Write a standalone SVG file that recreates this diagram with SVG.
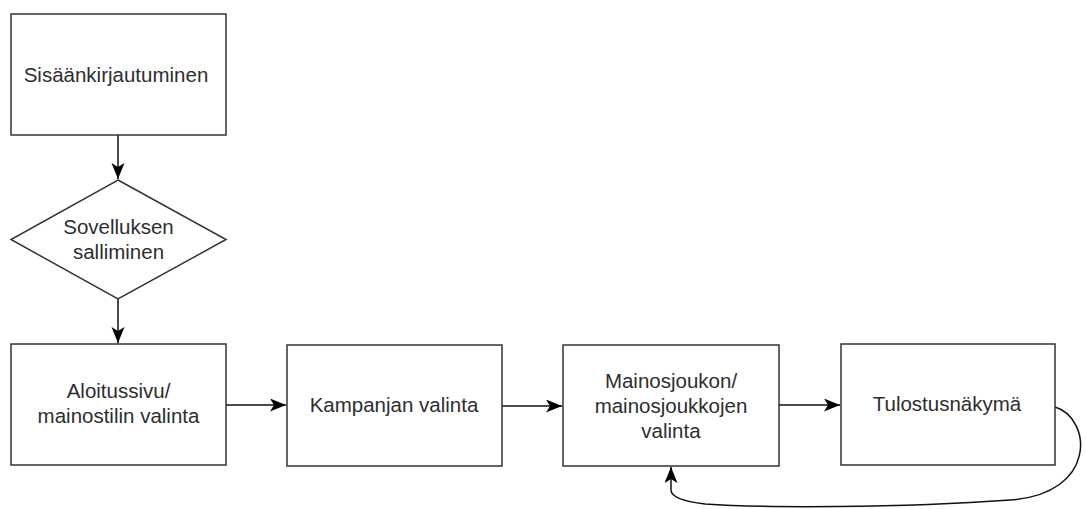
<svg xmlns="http://www.w3.org/2000/svg" width="1086" height="509" viewBox="0 0 1086 509">
<style>
.box{fill:#fff;stroke:#333;stroke-width:1.5}
.lbl{font-family:"Liberation Sans",Arial,sans-serif;font-size:20.5px;fill:#2e2e2e;text-anchor:middle}
.edge{fill:none;stroke:#111;stroke-width:1.5}
</style>
<defs>
<marker id="arr" markerWidth="18" markerHeight="14" refX="16" refY="6.5" orient="auto" markerUnits="userSpaceOnUse">
<path d="M0,0 L16,6.5 L0,13 L4,6.5 Z" fill="#000"/>
</marker>
</defs>
<rect width="1086" height="509" fill="#fff"/>
<g id="connectors">
<path class="edge" d="M118,135 L118,179" marker-end="url(#arr)"/>
<path class="edge" d="M118,299 L118,343" marker-end="url(#arr)"/>
<path class="edge" d="M226,405 L286,405" marker-end="url(#arr)"/>
<path class="edge" d="M502,406 L562,406" marker-end="url(#arr)"/>
<path class="edge" d="M779,405 L840,405" marker-end="url(#arr)"/>
<path class="edge" d="M1055,407 C1092,418 1098,494 1010,500 C 900,508 760,508 705,504 Q 671,500 671,490 L671,467" marker-end="url(#arr)"/>
</g>
<g id="n1"><rect class="box" x="11" y="14" width="215" height="121"/><text class="lbl" x="116" y="82">Sisäänkirjautuminen</text></g>
<g id="n2"><polygon class="box" points="118,180 226,239.5 118,299 11,239.5"/><text class="lbl" x="118.5" y="234">Sovelluksen</text><text class="lbl" x="118.5" y="259">salliminen</text></g>
<g id="n3"><rect class="box" x="11" y="344" width="215" height="121"/><text class="lbl" x="118.5" y="398">Aloitussivu/</text><text class="lbl" x="118.5" y="423">mainostilin valinta</text></g>
<g id="n4"><rect class="box" x="287" y="345" width="215" height="121"/><text class="lbl" x="394" y="412">Kampanjan valinta</text></g>
<g id="n5"><rect class="box" x="563" y="345" width="216" height="121"/><text class="lbl" x="671" y="388">Mainosjoukon/</text><text class="lbl" x="671" y="413">mainosjoukkojen</text><text class="lbl" x="671" y="438">valinta</text></g>
<g id="n6"><rect class="box" x="841" y="344" width="214" height="121"/><text class="lbl" x="947" y="411">Tulostusnäkymä</text></g>
</svg>
